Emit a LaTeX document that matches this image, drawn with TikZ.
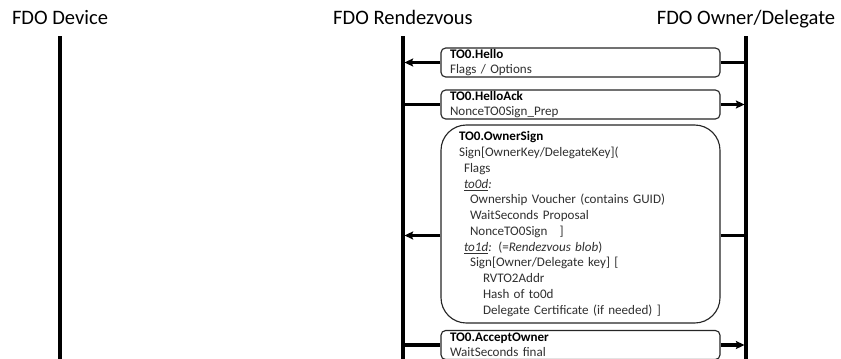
\documentclass[tikz,border=0pt]{standalone}
\usepackage{fontspec}
\setmainfont{Carlito}
\usetikzlibrary{arrows.meta,calc}

\definecolor{bodytext}{HTML}{303030}
\definecolor{boxline}{HTML}{262626}

\begin{document}
\begin{tikzpicture}[x=0.75pt,y=-0.75pt,
  head/.style={font=\fontsize{15.4}{18}\selectfont, text=black, anchor=base, inner sep=0pt},
  life/.style={line width=2.3pt, black},
  msgbox/.style={draw=boxline, line width=0.85pt, fill=white, rounded corners=3.5pt,
    minimum width=209.25pt, text width=195.75pt, inner xsep=6.75pt, inner ysep=0.4pt,
    align=left, text=bodytext, font=\fontsize{9.8}{11.4}\selectfont},
  bigbox/.style={msgbox, rounded corners=19pt, text width=182.25pt, inner xsep=13.5pt,
    font=\fontsize{9.8}{11.8}\selectfont},
  link/.style={line width=2.3pt, black},
  msg/.style={link, -{Stealth[length=6.5pt,width=6pt,inset=1.2pt]}, shorten >=1.1pt}
]
\useasboundingbox (0,0) rectangle (841,358);
\clip (0,0) rectangle (841,358);

% participants
\node[head] (hdev) at (60,24) {FDO Device};
\node[head] (hrv)  at (403,24) {FDO Rendezvous};
\node[head] (how)  at (746,24) {FDO Owner/Delegate};

% lifelines
\coordinate (devtop) at (60,36);   \coordinate (devbot) at (60,365);
\coordinate (rvtop)  at (403,36);  \coordinate (rvbot)  at (403,365);
\coordinate (owtop)  at (746,36);  \coordinate (owbot)  at (746,365);
\draw[life] (devtop) -- (devbot);
\draw[life] (rvtop) -- (rvbot);
\draw[life] (owtop) -- (owbot);

% TO0.Hello : owner -> rendezvous
\node[msgbox, minimum height=21.75pt] (hello) at (580.5,62.5)
  {{\color{black}\bfseries TO0.Hello}\\Flags / Options};
\draw[msg]  (hello.west) -- (hello.west -| rvtop);
\draw[link] (hello.east) -- (hello.east -| owtop);

% TO0.HelloAck : rendezvous -> owner
\node[msgbox, minimum height=21.75pt] (ack) at (580.5,104.5)
  {{\color{black}\bfseries TO0.HelloAck}\\NonceTO0Sign\_Prep};
\draw[link] (ack.west -| rvtop) -- (ack.west);
\draw[msg]  (ack.east) -- (ack.east -| owtop);

% TO0.OwnerSign : owner -> rendezvous
\node[bigbox, minimum height=148.5pt] (osign) at (580.5,224)
  {{\color{black}\bfseries TO0.OwnerSign}\\
   Sign[OwnerKey/DelegateKey](\\
   \hspace*{3.75pt}Flags\\
   \hspace*{3.75pt}\underline{\textit{to0d}}\textit{:}\\
   \hspace*{8.25pt}Ownership Voucher (contains GUID)\\
   \hspace*{8.25pt}WaitSeconds Proposal\\
   \hspace*{8.25pt}NonceTO0Sign\hspace{9pt}]\\
   \hspace*{3.75pt}\underline{\textit{to1d}}\textit{:} (=\textit{Rendezvous blob})\\
   \hspace*{8.25pt}Sign[Owner/Delegate key] [\\
   \hspace*{18pt}RVTO2Addr\\
   \hspace*{18pt}Hash of to0d\\
   \hspace*{18pt}Delegate Certificate (if needed) ]};
\coordinate (osl) at ([yshift=-8.6pt]osign.west);
\coordinate (osr) at ([yshift=-8.6pt]osign.east);
\draw[msg]  (osl) -- (osl -| rvtop);
\draw[link] (osr) -- (osr -| owtop);

% TO0.AcceptOwner : rendezvous -> owner
\node[msgbox, minimum height=21.75pt, font=\fontsize{9.8}{11}\selectfont] (accept) at (580.5,345)
  {{\color{black}\bfseries TO0.AcceptOwner}\\WaitSeconds final};
\draw[link] (accept.west -| rvtop) -- (accept.west);
\draw[msg]  (accept.east) -- (accept.east -| owtop);
\end{tikzpicture}
\end{document}
